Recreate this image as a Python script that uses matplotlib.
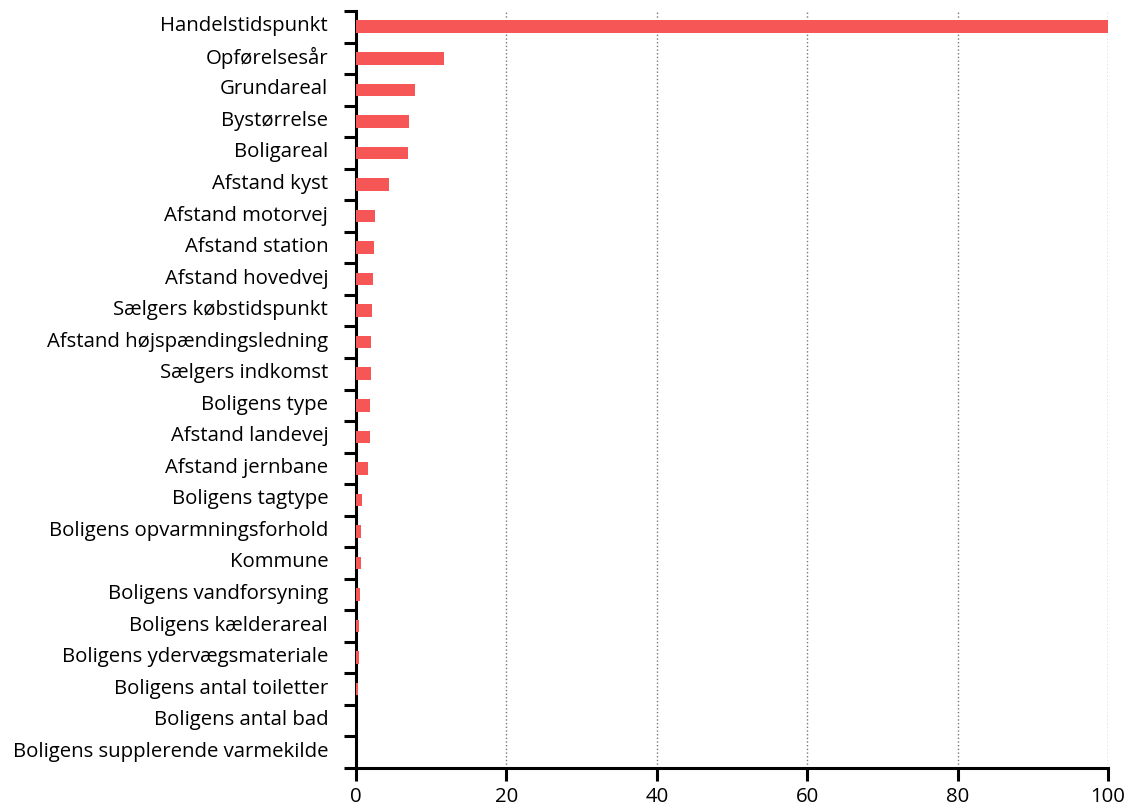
import matplotlib
matplotlib.use("Agg")
import matplotlib.pyplot as plt
import matplotlib.transforms as mtransforms
import numpy as np

categories = [
    "Handelstidspunkt", "Opførelsesår", "Grundareal", "Bystørrelse", "Boligareal",
    "Afstand kyst", "Afstand motorvej", "Afstand station", "Afstand hovedvej",
    "Sælgers købstidspunkt", "Afstand højspændingsledning", "Sælgers indkomst",
    "Boligens type", "Afstand landevej", "Afstand jernbane", "Boligens tagtype",
    "Boligens opvarmningsforhold", "Kommune", "Boligens vandforsyning",
    "Boligens kælderareal", "Boligens ydervægsmateriale", "Boligens antal toiletter",
    "Boligens antal bad", "Boligens supplerende varmekilde",
]
values = [100, 11.75, 7.85, 7.1, 6.9, 4.35, 2.53, 2.4, 2.2, 2.08, 2.0, 1.95,
          1.86, 1.82, 1.64, 0.75, 0.66, 0.62, 0.53, 0.4, 0.35, 0.2, 0.03, 0.0]
x_ticks = [0, 20, 40, 60, 80, 100]

plt.rcParams['font.family'] = ['Open Sans', 'DejaVu Sans']
fig = plt.figure(figsize=(11.3, 8.12), dpi=100)
ax = fig.add_axes([356/1130, 1-769/812, (1108-356)/1130, (769-12)/812])

n = len(categories)
pos = np.arange(n)
ax.barh(pos, values, height=0.4, color='#f65656', zorder=3)
ax.set_ylim(n - 0.5, -0.5)
ax.set_xlim(0, 100)

ax.set_yticks(np.arange(n + 1) - 0.5)
ax.set_yticklabels([])
ax.set_yticks(pos, minor=True)
ax.set_yticklabels(categories, minor=True, fontsize=14.7)
ax.tick_params(axis='y', which='major', length=9, width=2.2, color='black')
ax.tick_params(axis='y', which='minor', length=0, pad=20)
shift = mtransforms.ScaledTranslation(0, 4/100, fig.dpi_scale_trans)
for lab in ax.get_yticklabels(minor=True):
    lab.set_transform(lab.get_transform() + shift)

ax.set_xticks(x_ticks)
ax.set_xticklabels([str(t) for t in x_ticks], fontsize=14.7)
ax.tick_params(axis='x', length=9, width=2.2, pad=4)

ax.grid(axis='x', linestyle=':', color='#777777', linewidth=1, zorder=0)
ax.spines['top'].set_visible(False)
ax.spines['right'].set_visible(False)
ax.spines['left'].set_linewidth(2.2)
ax.spines['bottom'].set_linewidth(2.2)

fig.savefig("out.png", dpi=100)
